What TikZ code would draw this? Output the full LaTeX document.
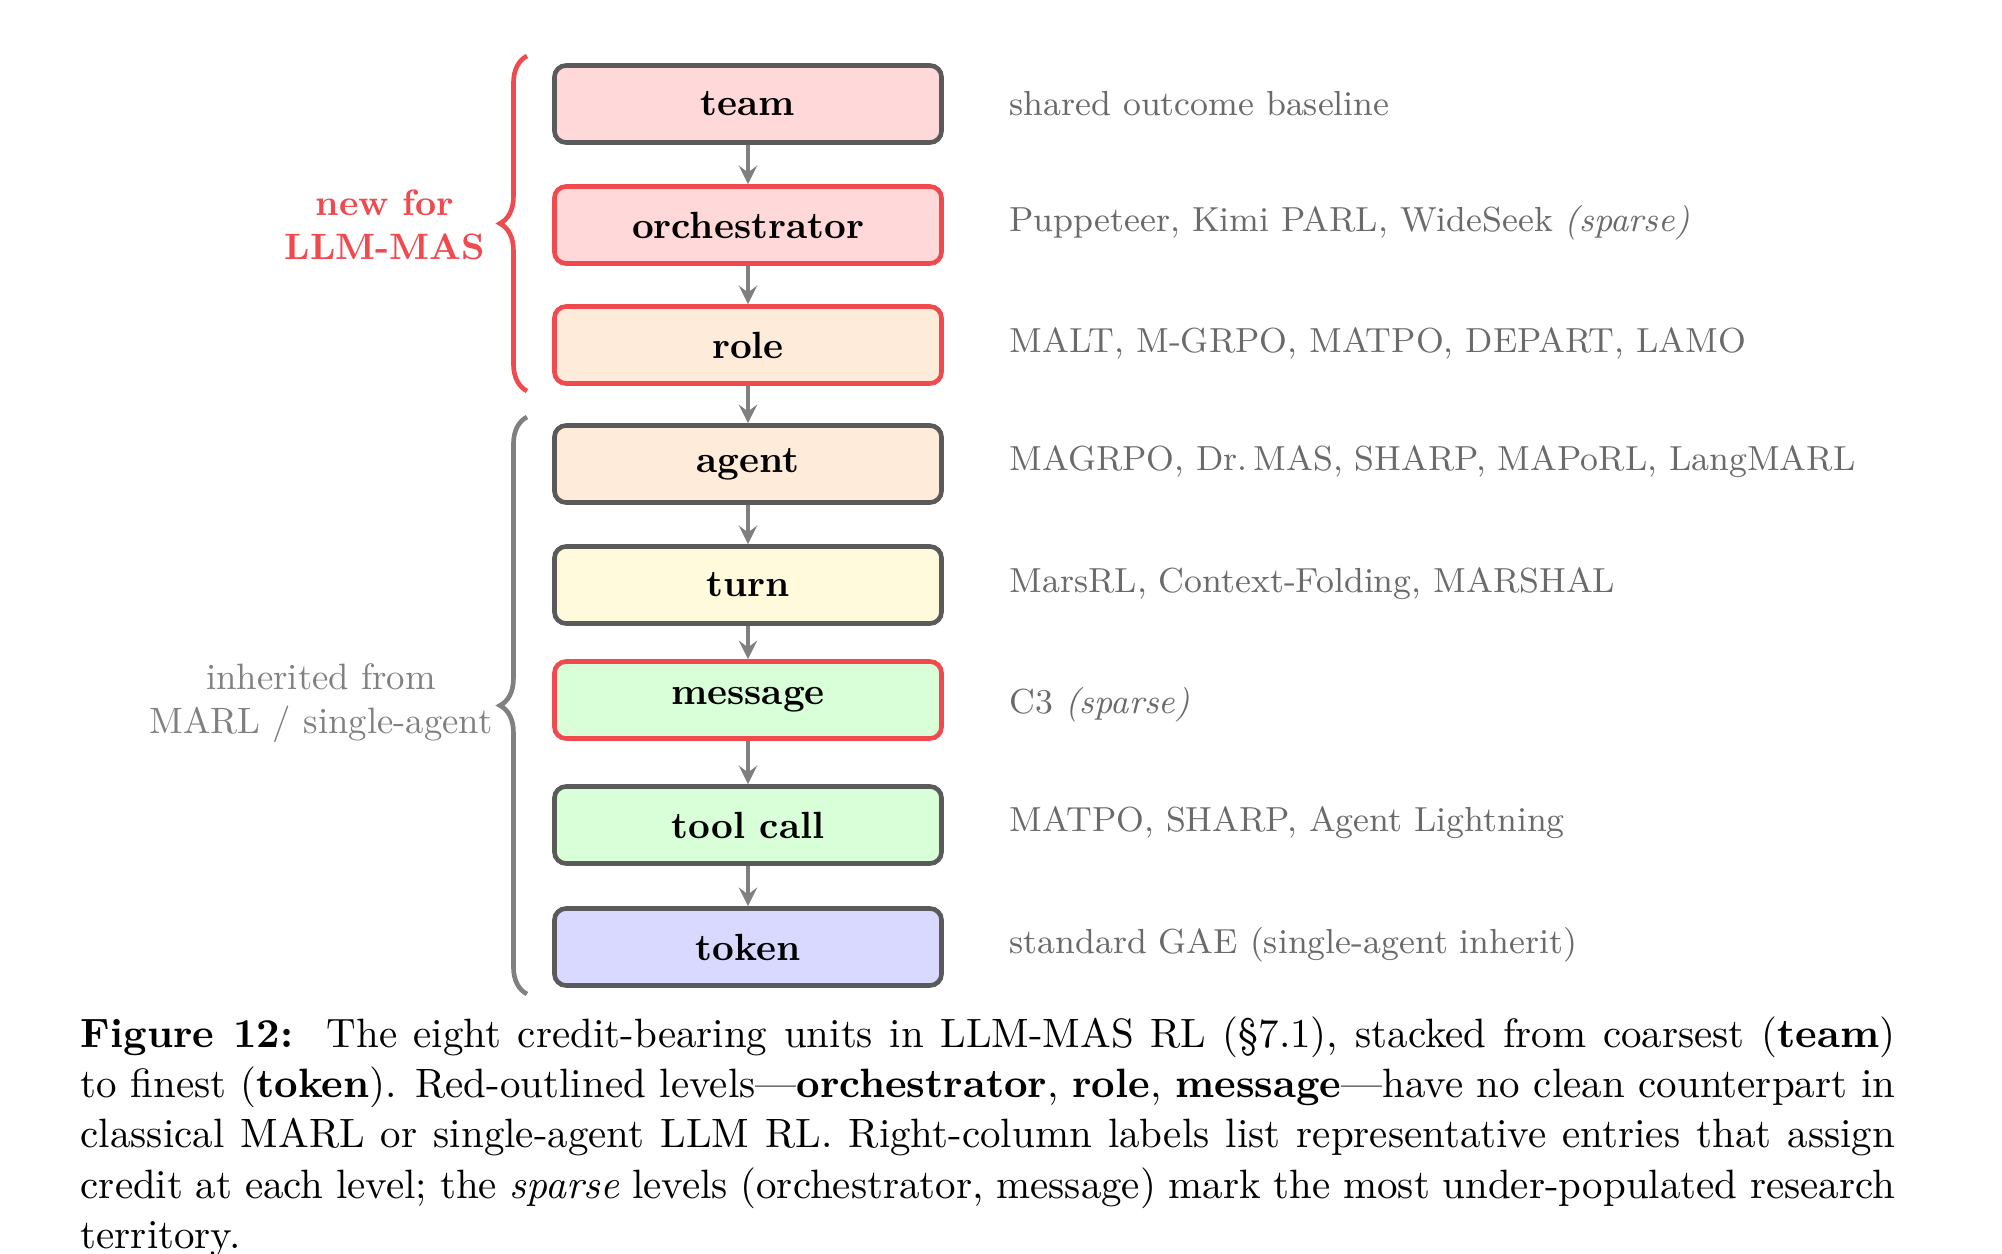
\documentclass[tikz,border=0pt]{standalone}
\usepackage{amsmath,amssymb}
\usetikzlibrary{decorations.pathreplacing}
\definecolor{redline}{HTML}{F04A4F}
\definecolor{boxgray}{HTML}{5A5A5A}
\definecolor{txtgray}{HTML}{6A6A6A}
\definecolor{fpink}{HTML}{FFD9D9}
\definecolor{fpeach}{HTML}{FFEBD9}
\definecolor{fyellow}{HTML}{FFFADC}
\definecolor{fgreen}{HTML}{D9FFD9}
\definecolor{fblue}{HTML}{D9D9FF}
\tikzset{
  unit/.style={draw=boxgray, line width=1.2pt, rounded corners=3pt, minimum width=3.52cm,
    minimum height=0.70cm, font=\fontsize{9.8}{12}\selectfont\bfseries},
  newunit/.style={unit, draw=redline},
  note/.style={anchor=west, text=txtgray, font=\fontsize{9}{11}\selectfont},
  flow/.style={-stealth, draw=gray, line width=1.1pt},
  grp/.style={decorate, decoration={brace, amplitude=7pt}, line width=1.2pt}
}
\begin{document}
\begin{tikzpicture}[x=0.0091cm, y=-0.0091cm]
\useasboundingbox (0,0) rectangle (2002,1254);
% levels
\node[unit, fill=fpink] (team) at (748,104) {team};
\node[newunit, fill=fpink] (orch) at (748,225) {orchestrator};
\node[newunit, fill=fpeach] (role) at (748,345) {role};
\node[unit, fill=fpeach] (agent) at (748,464) {agent};
\node[unit, fill=fyellow] (turn) at (748,585) {turn};
\node[newunit, fill=fgreen] (msg) at (748,700) {message};
\node[unit, fill=fgreen] (tool) at (748,825) {tool call};
\node[unit, fill=fblue] (token) at (748,947) {token};
\foreach \a/\b in {team/orch, orch/role, role/agent, agent/turn, turn/msg, msg/tool, tool/token}
  \draw[flow] (\a) -- (\b);
% right column
\node[note] (nteam) at (996,104) {shared outcome baseline};
\node[note] (norch) at (996,223) {Puppeteer, Kimi PARL, WideSeek \textit{(sparse)}};
\node[note] (nrole) at (996,343) {MALT, M-GRPO, MATPO, DEPART, LAMO};
\node[note] (nagent) at (996,462) {MAGRPO, Dr.\,MAS, SHARP, MAPoRL, LangMARL};
\node[note] (nturn) at (996,584) {MarsRL, Context-Folding, MARSHAL};
\node[note] (nmsg) at (996,705) {C3 \textit{(sparse)}};
\node[note] (ntool) at (996,823) {MATPO, SHARP, Agent Lightning};
\node[note] (ntoken) at (996,945) {standard GAE (single-agent inherit)};
% groups
\coordinate (rb) at (527,391);
\coordinate (rt) at (527,56);
\coordinate (gb) at (527,994);
\coordinate (gt) at (527,417);
\draw[grp, redline] (rb) -- (rt);
\draw[grp, gray] (gb) -- (gt);
\node[text=redline, align=center, font=\fontsize{9.5}{11.5}\selectfont\bfseries] (newlab) at (385,225) {new for\\LLM-MAS};
\node[text=gray, align=center, font=\fontsize{9.5}{11.5}\selectfont] (oldlab) at (321,703) {inherited from\\MARL / single-agent};
% caption
\node[anchor=north west, text width=16.5cm, align=justify, inner sep=0pt,
  font=\fontsize{10.6}{13}\selectfont] (cap) at (80,1016)
  {\textbf{Figure 12:}\ \ The eight credit-bearing units in LLM-MAS RL (\S7.1), stacked from coarsest (\textbf{team}) to finest (\textbf{token}). Red-outlined levels---\textbf{orchestrator}, \textbf{role}, \textbf{message}---have no clean counterpart in classical MARL or single-agent LLM RL. Right-column labels list representative entries that assign credit at each level; the \textit{sparse} levels (orchestrator, message) mark the most under-populated research territory.};
\end{tikzpicture}
\end{document}
